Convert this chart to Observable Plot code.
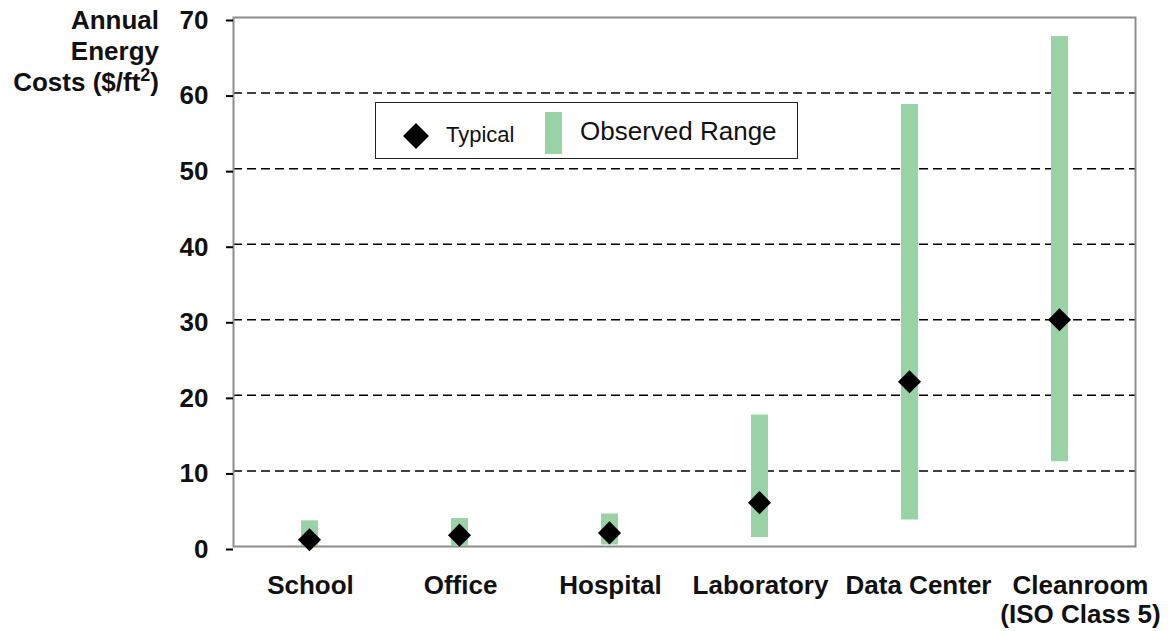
<!DOCTYPE html>
<html>
<head>
<meta charset="utf-8">
<script src="https://cdn.jsdelivr.net/npm/d3@7"></script>
<script src="https://cdn.jsdelivr.net/npm/@observablehq/plot@0.6"></script>
<style>
  body { margin: 0; background: #fff; font-family: "Liberation Sans", Arial, Helvetica, sans-serif; }
  #wrap { position: relative; width: 1169px; height: 631px; overflow: hidden; }
  #wrap svg.plot { position: absolute; left: 0; top: 0; }
  #ytitle { position: absolute; left: 0; top: 5px; width: 159px; text-align: right; font-weight: bold; font-size: 26px; line-height: 31px; color: #111; }
  #legend { position: absolute; left: 375px; top: 102px; width: 421px; height: 55px; border: 1px solid #222; background: #fff; }
  #legend .item { position: absolute; font-size: 22px; color: #111; }
</style>
</head>
<body>
<div id="wrap">
  <div id="ytitle">Annual<br>Energy<br>Costs ($/ft<span style="font-size:18px;position:relative;top:-10px">2</span>)</div>
</div>
<script>
const categories = ["School", "Office", "Hospital", "Laboratory", "Data Center", "Cleanroom\n(ISO Class 5)"];
const typical = [0.9, 1.5, 1.8, 5.8, 21.8, 30];
const rangeLow = [0, 0, 0.2, 1.2, 3.5, 11.2];
const rangeHigh = [3.4, 3.7, 4.3, 17.4, 58.5, 67.5];
const yTicks = [0, 10, 20, 30, 40, 50, 60, 70];
const gridLines = [10, 20, 30, 40, 50, 60];

const rows = categories.map((c, i) => ({cat: c, typ: typical[i], lo: rangeLow[i], hi: rangeHigh[i]}));
const green = "#99d3a5";
const font = "'Liberation Sans', Arial, Helvetica, sans-serif";
const labelOpts = {x: "cat", text: "cat", frameAnchor: "bottom", lineAnchor: "top", dy: 27, lineHeight: 1.12, fontSize: 26, fontWeight: "bold", fill: "#111"};

const chart = Plot.plot({
  width: 1169,
  height: 631,
  marginLeft: 233,
  marginRight: 34,
  marginTop: 17,
  marginBottom: 85,
  style: {fontFamily: font, background: "transparent", overflow: "visible"},
  x: {type: "point", domain: categories, padding: 0.5, axis: null},
  y: {domain: [0, 70], axis: null},
  marks: [
    Plot.ruleY(gridLines, {stroke: "#000", strokeWidth: 1.5, strokeDasharray: "9,5"}),
    Plot.frame({stroke: "#8c8c8c", strokeWidth: 2}),
    Plot.axisY({ticks: yTicks, tickSize: 7, tickPadding: 18, fontSize: 26, fontWeight: "bold", stroke: "#000", strokeWidth: 2, dy: 3, fill: "#111"}),
    Plot.ruleX(rows, {x: "cat", y1: "lo", y2: "hi", stroke: green, strokeWidth: 17}),
    Plot.dot(rows, {x: "cat", y: "typ", symbol: "diamond2", r: 10.4, fill: "#000", stroke: null}),
    Plot.text(rows.filter(d => ["School", "Office", "Hospital", "Laboratory"].includes(d.cat)), {...labelOpts, dx: 1}),
    Plot.text(rows.filter(d => d.cat === "Data Center"), {...labelOpts, dx: 9}),
    Plot.text(rows.filter(d => d.cat.startsWith("Cleanroom")), {...labelOpts, dx: 21})
  ]
});
chart.classList.add("plot");
const wrap = document.getElementById("wrap");
wrap.insertBefore(chart, wrap.firstChild);

const legend = document.createElement("div");
legend.id = "legend";
legend.innerHTML = `
  <svg style="position:absolute;left:27px;top:20px" width="26" height="26"><polygon points="13,0 26,13 13,26 0,13" fill="#000"/></svg>
  <div class="item" style="left:70px;top:19px;font-size:22px">Typical</div>
  <div style="position:absolute;left:169px;top:9px;width:17px;height:42px;background:${green}"></div>
  <div class="item" style="left:204px;top:13px;font-size:26px">Observed Range</div>`;
wrap.appendChild(legend);
</script>
</body>
</html>
